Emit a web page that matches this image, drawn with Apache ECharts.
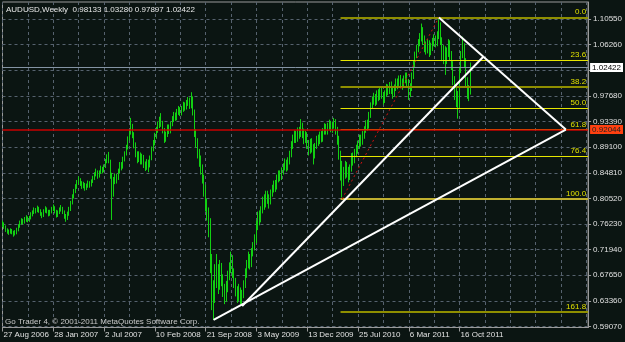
<!DOCTYPE html>
<html><head><meta charset="utf-8">
<script src="https://cdn.jsdelivr.net/npm/echarts@6/dist/echarts.min.js"></script>
<style>html,body{margin:0;padding:0;background:#0b1512;}#c{width:625px;height:342px;}</style>
</head><body><div id="c"></div>
<script>
// ---------- data ----------
const xLabels = ['27 Aug 2006','28 Jan 2007','2 Jul 2007','10 Feb 2008','21 Sep 2008','3 May 2009','13 Dec 2009','25 Jul 2010','6 Mar 2011','16 Oct 2011'];
const firstOpen = 0.765;
const closes = [
0.763,0.757,0.752,0.750,0.748,0.751,0.749,0.745,0.747,0.752,
0.758,0.764,0.768,0.765,0.770,0.773,0.768,0.772,0.778,0.781,
0.786,0.784,0.789,0.785,0.780,0.776,0.783,0.788,0.784,0.779,
0.782,0.787,0.790,0.784,0.777,0.781,0.786,0.789,0.783,0.776,
0.771,0.779,0.786,0.797,0.808,0.817,0.824,0.832,0.836,0.830,
0.826,0.829,0.822,0.825,0.831,0.827,0.833,0.838,0.845,0.850,
0.842,0.848,0.855,0.851,0.858,0.867,0.875,0.868,0.845,0.820,
0.835,0.842,0.838,0.850,0.862,0.858,0.870,0.880,0.890,0.905,
0.915,0.925,0.912,0.895,0.880,0.872,0.878,0.868,0.875,0.862,
0.858,0.866,0.860,0.872,0.888,0.898,0.910,0.920,0.928,0.935,
0.930,0.920,0.905,0.912,0.925,0.918,0.930,0.938,0.945,0.940,
0.950,0.955,0.948,0.955,0.962,0.958,0.965,0.970,0.960,0.972,
0.950,0.915,0.900,0.880,0.870,0.855,0.840,0.820,0.795,0.780,
0.760,0.700,0.650,0.640,0.670,0.685,0.660,0.690,0.670,0.650,
0.640,0.655,0.675,0.690,0.705,0.680,0.665,0.650,0.640,0.650,
0.638,0.645,0.660,0.680,0.695,0.705,0.695,0.715,0.725,0.735,
0.760,0.775,0.770,0.785,0.800,0.795,0.810,0.805,0.800,0.812,
0.820,0.828,0.825,0.838,0.845,0.842,0.850,0.858,0.865,0.858,
0.868,0.878,0.895,0.905,0.912,0.905,0.918,0.912,0.925,0.915,
0.905,0.912,0.898,0.885,0.900,0.890,0.880,0.893,0.905,0.900,
0.912,0.905,0.918,0.925,0.918,0.926,0.930,0.922,0.928,0.935,
0.920,0.905,0.880,0.850,0.835,0.845,0.860,0.850,0.842,0.855,
0.875,0.868,0.882,0.888,0.895,0.905,0.900,0.912,0.920,0.930,
0.925,0.945,0.960,0.970,0.975,0.968,0.980,0.975,0.985,0.978,
0.970,0.980,0.990,0.985,0.993,0.988,0.980,0.990,1.000,0.995,
1.005,1.000,0.995,1.005,1.010,1.000,0.985,0.990,1.010,1.030,
1.045,1.055,1.065,1.075,1.085,1.070,1.060,1.055,1.065,1.050,
1.060,1.068,1.072,1.065,1.078,1.095,1.070,1.045,1.055,1.040,
1.050,1.065,1.045,1.030,1.005,0.985,0.975,0.960,1.020,1.045,
1.060,1.035,1.000,0.985,0.98133,1.02422];
const highs = [
0.768,0.765,0.760,0.755,0.753,0.755,0.754,0.751,0.752,0.756,
0.762,0.768,0.772,0.771,0.774,0.777,0.775,0.776,0.782,0.785,
0.790,0.789,0.793,0.791,0.787,0.782,0.787,0.792,0.790,0.786,
0.786,0.791,0.795,0.792,0.786,0.785,0.790,0.794,0.791,0.785,
0.779,0.783,0.791,0.801,0.812,0.821,0.829,0.836,0.842,0.839,
0.834,0.833,0.831,0.830,0.835,0.834,0.837,0.843,0.849,0.855,
0.852,0.852,0.860,0.858,0.862,0.871,0.879,0.883,0.870,0.848,
0.841,0.847,0.846,0.855,0.866,0.866,0.875,0.884,0.895,0.909,
0.920,0.940,0.930,0.916,0.899,0.884,0.884,0.882,0.880,0.878,
0.867,0.871,0.870,0.877,0.892,0.903,0.915,0.925,0.934,0.942,
0.948,0.935,0.923,0.917,0.929,0.929,0.934,0.943,0.950,0.949,
0.955,0.960,0.958,0.960,0.967,0.966,0.970,0.975,0.974,0.983,
0.976,0.954,0.921,0.906,0.888,0.877,0.862,0.845,0.828,0.805,
0.790,0.772,0.712,0.668,0.695,0.712,0.695,0.702,0.697,0.678,
0.662,0.667,0.684,0.698,0.716,0.710,0.688,0.672,0.658,0.662,
0.656,0.652,0.668,0.688,0.702,0.716,0.712,0.722,0.732,0.745,
0.768,0.783,0.785,0.792,0.808,0.812,0.818,0.818,0.812,0.820,
0.828,0.835,0.836,0.845,0.852,0.852,0.857,0.864,0.872,0.870,
0.874,0.885,0.901,0.912,0.919,0.918,0.924,0.925,0.938,0.932,
0.922,0.918,0.916,0.903,0.905,0.906,0.896,0.898,0.910,0.912,
0.917,0.918,0.923,0.931,0.930,0.932,0.937,0.935,0.933,0.940,
0.938,0.925,0.910,0.885,0.868,0.858,0.868,0.866,0.858,0.862,
0.881,0.882,0.888,0.895,0.902,0.912,0.912,0.918,0.926,0.936,
0.937,0.950,0.966,0.976,0.982,0.980,0.986,0.988,0.992,0.991,
0.983,0.986,0.997,0.996,1.000,1.001,0.993,0.996,1.006,1.006,
1.011,1.012,1.006,1.011,1.016,1.016,1.005,0.998,1.016,1.036,
1.051,1.062,1.072,1.082,1.098,1.092,1.078,1.068,1.072,1.070,
1.066,1.074,1.080,1.078,1.085,1.1081,1.100,1.075,1.062,1.060,
1.058,1.072,1.070,1.052,1.035,1.010,0.995,0.985,1.026,1.052,
1.076,1.065,1.040,1.008,0.995,1.0328];
const lows = [
0.757,0.754,0.749,0.746,0.744,0.746,0.745,0.741,0.743,0.745,
0.750,0.756,0.761,0.762,0.763,0.766,0.765,0.766,0.770,0.775,
0.779,0.780,0.782,0.781,0.776,0.772,0.774,0.781,0.780,0.775,
0.776,0.780,0.784,0.780,0.773,0.774,0.779,0.783,0.779,0.771,
0.766,0.769,0.776,0.784,0.795,0.805,0.814,0.821,0.828,0.826,
0.821,0.822,0.818,0.819,0.823,0.823,0.825,0.831,0.836,0.842,
0.838,0.840,0.846,0.847,0.849,0.856,0.864,0.864,0.838,0.769,
0.808,0.829,0.830,0.836,0.847,0.852,0.855,0.867,0.877,0.887,
0.902,0.912,0.906,0.889,0.874,0.864,0.866,0.862,0.862,0.856,
0.851,0.853,0.849,0.857,0.869,0.884,0.894,0.905,0.915,0.923,
0.925,0.914,0.898,0.900,0.908,0.913,0.914,0.926,0.933,0.935,
0.936,0.945,0.943,0.944,0.950,0.952,0.954,0.960,0.955,0.956,
0.944,0.908,0.890,0.872,0.858,0.845,0.830,0.808,0.783,0.768,
0.740,0.680,0.618,0.6015,0.630,0.655,0.645,0.652,0.658,0.640,
0.628,0.632,0.648,0.668,0.680,0.672,0.655,0.641,0.630,0.633,
0.628,0.625,0.638,0.655,0.672,0.688,0.686,0.690,0.708,0.718,
0.730,0.752,0.760,0.765,0.780,0.786,0.790,0.796,0.788,0.795,
0.808,0.815,0.816,0.820,0.832,0.834,0.836,0.845,0.852,0.850,
0.852,0.862,0.874,0.888,0.898,0.898,0.900,0.905,0.908,0.906,
0.896,0.898,0.888,0.877,0.880,0.882,0.862,0.872,0.888,0.893,
0.896,0.899,0.900,0.912,0.912,0.912,0.920,0.916,0.915,0.922,
0.912,0.895,0.870,0.835,0.8067,0.826,0.838,0.840,0.832,0.836,
0.850,0.860,0.864,0.874,0.880,0.888,0.892,0.895,0.905,0.915,
0.918,0.922,0.940,0.955,0.962,0.960,0.962,0.968,0.970,0.972,
0.962,0.965,0.975,0.978,0.980,0.980,0.972,0.975,0.985,0.988,
0.990,0.993,0.987,0.990,0.998,0.993,0.970,0.975,0.985,1.005,
1.025,1.040,1.050,1.060,1.068,1.062,1.050,1.046,1.048,1.042,
1.045,1.052,1.060,1.058,1.060,1.072,1.062,1.035,1.030,1.012,
1.030,1.042,1.036,1.020,0.995,0.970,0.958,0.9387,0.955,1.015,
1.040,1.025,0.992,0.972,0.968,0.97897];
const totalSlots = 370;              // bars incl. empty right margin
const yTicks = [0.5907,0.6336,0.6765,0.7194,0.7623,0.8052,0.8481,0.8910,0.9339,0.9768,1.0197,1.0626,1.1055];
const yLabelVals = [0.5907,0.6336,0.6765,0.7194,0.7623,0.8052,0.8481,0.8910,0.9339,0.9768,1.0626,1.1055];
const yMin = 0.5889, yMax = 1.1341;
const bidPrice = 1.02422;
const alertPrice = 0.92044;
const fibPct = [0, 23.6, 38.2, 50, 61.8, 76.4, 100, 161.8];
const fibHigh = [275, 1.1085];
const fibLow = [214, 0.8040];
const fibStart = 213;
const trendLines = [
  [[133, 0.6015], [355, 0.92044]],
  [[151, 0.625], [303, 1.0424]],
  [[275, 1.1081], [355, 0.92044]]
];
const titleText = 'AUDUSD,Weekly  0.98133 1.03280 0.97897 1.02422';
const copyText = 'Go Trader 4, \u00a9 2001-2011 MetaQuotes Software Corp.';

// ---------- build ----------
const FONT = 'Liberation Sans';
const cats = Array.from({length: totalSlots}, (_, i) => String(i));
const ohlc = closes.map((c, i) => [i === 0 ? firstOpen : closes[i - 1], c, lows[i], highs[i]]);
const lastIdx = totalSlots - 1;
const fibColors = {0:'#8f8f00', 23.6:'#e6e600', 38.2:'#8f8f00', 50:'#e6e600', 61.8:'#e6e600', 76.4:'#e6e600', 100:'#c0b030', 161.8:'#8f8f00'};
const fibWidths = {0:2, 23.6:1, 38.2:2, 50:1, 61.8:1, 76.4:1, 100:2, 161.8:2};

const ml = [];
fibPct.forEach(p => {
  const v = fibHigh[1] - p / 100 * (fibHigh[1] - fibLow[1]);
  ml.push([{coord:[fibStart, v], lineStyle:{color:fibColors[p], width:fibWidths[p], type:'solid'},
            label:{show:true, position:'insideEndTop', formatter:p.toFixed(1), color:'#e0e000', fontSize:8, fontFamily:FONT, distance:[2,1]}},
           {coord:[lastIdx, v]}]);
});
ml.push([{coord:[0, alertPrice], lineStyle:{color:'#c80000', width:1.5, type:'solid'},
          label:{show:true, position:'end', formatter:alertPrice.toFixed(5), color:'#222', backgroundColor:'#ff4010', fontSize:8, fontFamily:FONT, padding:[1,2,0,2], distance:2}},
         {coord:[lastIdx, alertPrice]}]);
ml.push([{coord:[0, bidPrice], lineStyle:{color:'#8494a4', width:1, type:'solid'},
          label:{show:true, position:'end', formatter:bidPrice.toFixed(5), color:'#000', backgroundColor:'#ffffff', fontSize:8, fontFamily:FONT, padding:[1,2,0,2], distance:2}},
         {coord:[lastIdx, bidPrice]}]);
ml.push([{coord:fibLow, lineStyle:{color:'#d01010', width:1, type:[2,3]}}, {coord:fibHigh}]);
trendLines.forEach(l => ml.push([{coord:l[0], lineStyle:{color:'#ffffff', width:2, type:'solid'}}, {coord:l[1]}]));

const chart = echarts.init(document.getElementById('c'), null, {renderer:'canvas'});
chart.setOption({
  backgroundColor: '#0b1512',
  animation: false,
  textStyle: {fontFamily: FONT},
  grid: {left: 2.5, right: 32, top: 2, bottom: 14.5, show: true, borderColor: '#9a9a9a', borderWidth: 1},
  xAxis: {
    type: 'category', data: cats, boundaryGap: false,
    axisLine: {show: true, lineStyle: {color: '#9a9a9a'}},
    axisTick: {show: true, length: 4, interval: (i) => i % 32 === 0 && i / 32 < xLabels.length, lineStyle: {color: '#9a9a9a'}},
    axisLabel: {interval: 31, align: 'left', margin: 3, color: '#e0e0e0', fontSize: 8, fontFamily: FONT, padding:[0,0,0,1],
      formatter: (v, i) => (i % 32 === 0 && xLabels[i / 32]) ? xLabels[i / 32] : ''},
    splitLine: {show: true, interval: 15, lineStyle: {color: '#56626e', type: [3,3], width: 1}}
  },
  yAxis: {
    type: 'value', position: 'right', min: yMin, max: yMax, scale: true,
    axisLine: {show: true, lineStyle: {color: '#9a9a9a'}},
    axisTick: {show: true, length: 3, customValues: yTicks, lineStyle: {color: '#9a9a9a'}},
    axisLabel: {customValues: yLabelVals, margin: 5, color: '#e0e0e0', fontSize: 8, fontFamily: FONT, formatter: v => v.toFixed(5)},
    splitLine: {show: true, lineStyle: {color: '#56626e', type: [3,3], width: 1}}
  },
  graphic: [
    {type:'text', left: 6, top: 6, style:{text: titleText, fill:'#e8e8e8', font:'8px "Liberation Sans"'}, z: 100},
    {type:'text', left: 5, top: 318, style:{text: copyText, fill:'#c8c8c8', font:'8px "Liberation Sans"'}, z: 100}
  ],
  series: [{
    type: 'candlestick', data: ohlc, barWidth: 1, large: false,
    itemStyle: {color:'#12c812', color0:'#12c812', borderColor:'#12d012', borderColor0:'#12d012', borderWidth: 1},
    markLine: {silent: true, symbol: ['none','none'], animation: false, label:{show:false}, data: ml}
  }]
});
</script></body></html>
